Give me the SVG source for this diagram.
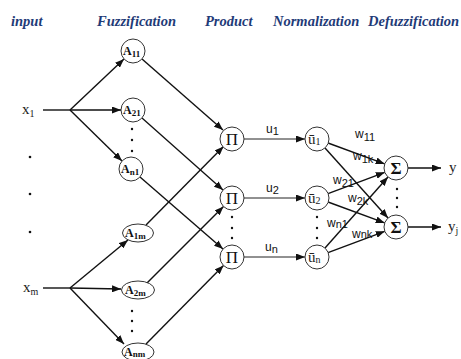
<svg xmlns="http://www.w3.org/2000/svg" width="461" height="359" viewBox="0 0 461 359">
  <style>
    .hdr { font-family: "Liberation Serif", "Times New Roman", serif; font-weight: bold; font-style: italic; font-size: 14.5px; fill: #1f3b78; }
    .node { fill: #ffffff; stroke: #333333; stroke-width: 1; }
    .nt { font-family: "Liberation Serif", "Times New Roman", serif; font-weight: bold; font-size: 12px; fill: #111111; }
    .sym { font-family: "Liberation Serif", "Times New Roman", serif; font-size: 17px; fill: #111111; }
    .var { font-family: "Liberation Serif", "Times New Roman", serif; font-size: 15px; fill: #222222; }
    .lbl { font-family: "Liberation Sans", Arial, sans-serif; font-size: 12px; fill: #111111; }
    .edge { stroke: #111111; stroke-width: 1.4; fill: none; }
    .thin { stroke: #222222; stroke-width: 1; fill: none; }
    .dot { fill: #111111; }
  </style>
  <defs>
    <marker id="arrow" markerUnits="userSpaceOnUse" markerWidth="9" markerHeight="7" refX="9" refY="3.5" orient="auto">
      <path d="M0,0 L9,3.5 L0,7 z" fill="#111111"/>
    </marker>
  </defs>

  <!-- layer headings -->
  <g id="headings">
    <text class="hdr" x="11" y="26">input</text>
    <text class="hdr" x="97" y="26">Fuzzification</text>
    <text class="hdr" x="205" y="26">Product</text>
    <text class="hdr" x="273" y="26">Normalization</text>
    <text class="hdr" x="368" y="26">Defuzzification</text>
  </g>

  <!-- connectors -->
  <g id="connectors">
    <!-- inputs to membership functions -->
    <path class="edge" d="M43,110 L70,110"/>
    <path class="edge" d="M70,110 L124,59" marker-end="url(#arrow)"/>
    <path class="edge" d="M70,110 L121,110" marker-end="url(#arrow)"/>
    <path class="edge" d="M70,110 L122,161" marker-end="url(#arrow)"/>
    <path class="edge" d="M43,288 L70,288"/>
    <path class="edge" d="M70,288 L128,240" marker-end="url(#arrow)"/>
    <path class="edge" d="M70,288 L121,289" marker-end="url(#arrow)"/>
    <path class="edge" d="M70,288 L124,344" marker-end="url(#arrow)"/>

    <!-- membership functions to product nodes -->
    <path class="edge" d="M142,59 L223,130" marker-end="url(#arrow)"/>
    <path class="edge" d="M142,118 L223,190" marker-end="url(#arrow)"/>
    <path class="edge" d="M140,177 L223,249" marker-end="url(#arrow)"/>
    <path class="edge" d="M146,225 L223.5,146.5" marker-end="url(#arrow)"/>
    <path class="edge" d="M147,283 L223.5,206.5" marker-end="url(#arrow)"/>
    <path class="edge" d="M146,344 L223.5,265.5" marker-end="url(#arrow)"/>

    <!-- product to normalization -->
    <path class="thin" d="M244,139 L305,139" marker-end="url(#arrow)"/>
    <path class="thin" d="M244,198 L305,198" marker-end="url(#arrow)"/>
    <path class="thin" d="M244,257 L305,257" marker-end="url(#arrow)"/>

    <!-- normalization to defuzzification -->
    <path class="edge" d="M328,143 L384.7,163.9" marker-end="url(#arrow)"/>
    <path class="edge" d="M325,148 L388,218" marker-end="url(#arrow)"/>
    <path class="edge" d="M328,193.7 L384.8,172.3" marker-end="url(#arrow)"/>
    <path class="edge" d="M328,202 L384.7,222.9" marker-end="url(#arrow)"/>
    <path class="edge" d="M325,248 L388,177" marker-end="url(#arrow)"/>
    <path class="edge" d="M328,252.7 L384.8,231.3" marker-end="url(#arrow)"/>

    <!-- outputs -->
    <path class="edge" d="M408,168 L441,168" marker-end="url(#arrow)"/>
    <path class="edge" d="M408,227 L441,227" marker-end="url(#arrow)"/>

    <!-- connector labels -->
    <text class="lbl" x="266" y="133">u<tspan font-size="11" dy="2">1</tspan></text>
    <text class="lbl" x="266" y="192">u<tspan font-size="11" dy="2">2</tspan></text>
    <text class="lbl" x="265" y="251">u<tspan font-size="11" dy="2">n</tspan></text>
    <text class="lbl" x="355" y="138">w<tspan font-size="11" dy="3">11</tspan></text>
    <text class="lbl" x="353" y="160">w<tspan font-size="11" dy="3">1k</tspan></text>
    <text class="lbl" x="333" y="184">w<tspan font-size="11" dy="3">21</tspan></text>
    <text class="lbl" x="348" y="202">w<tspan font-size="11" dy="3">2k</tspan></text>
    <text class="lbl" x="327" y="227">w<tspan font-size="11" dy="1">n1</tspan></text>
    <text class="lbl" x="352" y="238">w<tspan font-size="11">nk</tspan></text>
  </g>

  <!-- inputs -->
  <g id="x1">
    <text class="var" x="22" y="114">x<tspan font-size="10" dy="3">1</tspan></text>
  </g>
  <g id="xm">
    <text class="var" x="23" y="292">x<tspan font-size="10" dy="3">m</tspan></text>
  </g>
  <g id="input-dots">
    <circle class="dot" cx="30" cy="157" r="1.3"/>
    <circle class="dot" cx="30" cy="194" r="1.3"/>
    <circle class="dot" cx="30" cy="232" r="1.3"/>
  </g>

  <!-- fuzzification nodes -->
  <g id="A11">
    <circle class="node" cx="133" cy="51" r="12"/>
    <text class="nt" x="123" y="55">A<tspan font-size="9" dy="2">11</tspan></text>
  </g>
  <g id="A21">
    <circle class="node" cx="133" cy="110" r="12"/>
    <text class="nt" x="123" y="114">A<tspan font-size="9" dy="2">21</tspan></text>
  </g>
  <g id="An1">
    <circle class="node" cx="131" cy="169" r="12"/>
    <text class="nt" x="121" y="173">A<tspan font-size="9" dy="2">n1</tspan></text>
  </g>
  <g id="A1m">
    <ellipse class="node" cx="138" cy="233" rx="15.5" ry="9"/>
    <text class="nt" x="125" y="237">A<tspan font-size="9" dy="2">1m</tspan></text>
  </g>
  <g id="A2m">
    <ellipse class="node" cx="138" cy="290" rx="16.5" ry="9"/>
    <text class="nt" x="125" y="294">A<tspan font-size="9" dy="2">2m</tspan></text>
  </g>
  <g id="Anm">
    <ellipse class="node" cx="138" cy="352" rx="16" ry="9"/>
    <text class="nt" x="124" y="356">A<tspan font-size="9" dy="1">nm</tspan></text>
  </g>
  <g id="fuzz-dots">
    <circle class="dot" cx="132" cy="129" r="1.2"/>
    <circle class="dot" cx="132" cy="140" r="1.2"/>
    <circle class="dot" cx="132" cy="151" r="1.2"/>
    <circle class="dot" cx="132" cy="311" r="1.2"/>
    <circle class="dot" cx="132" cy="321" r="1.2"/>
    <circle class="dot" cx="132" cy="331" r="1.2"/>
  </g>

  <!-- product nodes -->
  <g id="P1">
    <circle class="node" cx="232" cy="139" r="12"/>
    <text class="sym" x="232" y="145" text-anchor="middle">Π</text>
  </g>
  <g id="P2">
    <circle class="node" cx="232" cy="198" r="12"/>
    <text class="sym" x="232" y="204" text-anchor="middle">Π</text>
  </g>
  <g id="Pn">
    <circle class="node" cx="232" cy="257" r="12"/>
    <text class="sym" x="232" y="263" text-anchor="middle">Π</text>
  </g>
  <g id="prod-dots">
    <circle class="dot" cx="232" cy="217" r="1.2"/>
    <circle class="dot" cx="232" cy="228" r="1.2"/>
    <circle class="dot" cx="232" cy="238" r="1.2"/>
  </g>

  <!-- normalization nodes -->
  <g id="U1">
    <circle class="node" cx="317" cy="139" r="12"/>
    <text class="var" font-size="15" x="308" y="144">ū<tspan font-size="10" dy="1">1</tspan></text>
  </g>
  <g id="U2">
    <circle class="node" cx="317" cy="198" r="12"/>
    <text class="var" font-size="15" x="308" y="203">ū<tspan font-size="10" dy="1">2</tspan></text>
  </g>
  <g id="Un">
    <circle class="node" cx="317" cy="257" r="12"/>
    <text class="var" font-size="15" x="308" y="262">ū<tspan font-size="10" dy="1">n</tspan></text>
  </g>
  <g id="norm-dots">
    <circle class="dot" cx="317" cy="217" r="1.2"/>
    <circle class="dot" cx="317" cy="228" r="1.2"/>
    <circle class="dot" cx="317" cy="238" r="1.2"/>
  </g>

  <!-- defuzzification nodes -->
  <g id="S1">
    <circle class="node" cx="396" cy="168" r="12"/>
    <text class="sym" font-weight="bold" x="396" y="174" text-anchor="middle">Σ</text>
  </g>
  <g id="Sk">
    <circle class="node" cx="396" cy="227" r="12"/>
    <text class="sym" font-weight="bold" x="396" y="233" text-anchor="middle">Σ</text>
  </g>
  <g id="defuzz-dots">
    <circle class="dot" cx="397" cy="189" r="1.2"/>
    <circle class="dot" cx="397" cy="198" r="1.2"/>
    <circle class="dot" cx="397" cy="207" r="1.2"/>
  </g>

  <!-- outputs -->
  <g id="y1">
    <text class="var" x="449" y="172">y</text>
  </g>
  <g id="yk">
    <text class="var" x="448" y="231">y<tspan font-size="10" dy="3">j</tspan></text>
  </g>
</svg>
